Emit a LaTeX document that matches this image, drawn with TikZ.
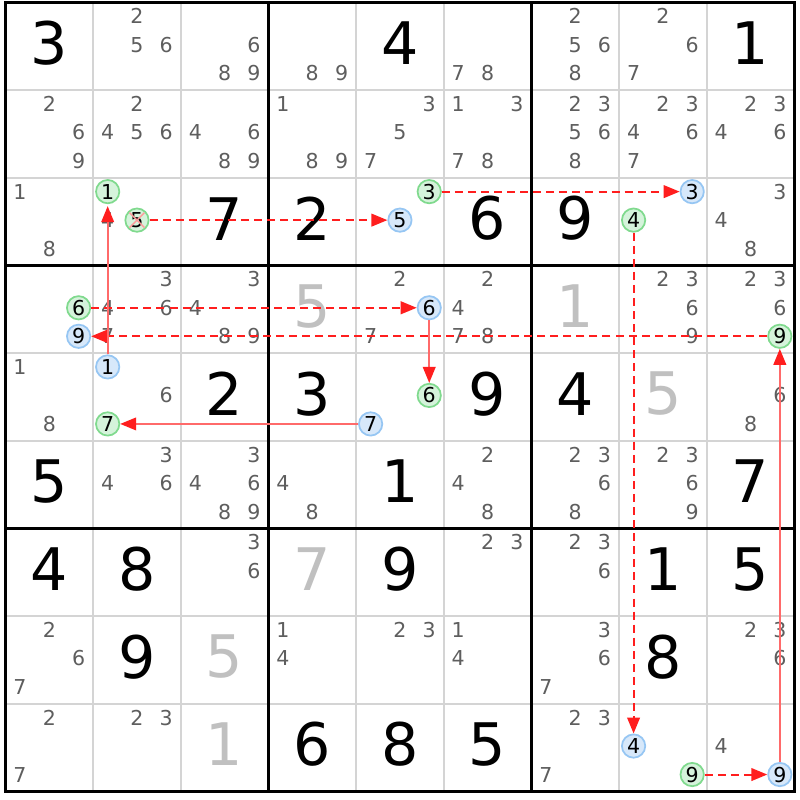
\documentclass[tikz,border=0pt]{standalone}
\usepackage{fontspec}
\setmainfont{DejaVu Sans}
\usepackage{xcolor}
\usepackage{tikz}
\usetikzlibrary{arrows.meta}

\definecolor{candgray}{HTML}{5E5E5E}
\definecolor{solvedgray}{HTML}{C0C0C0}
\definecolor{thingrid}{HTML}{D4D4D4}
\definecolor{onfill}{HTML}{D5F3DB}
\definecolor{ondraw}{HTML}{80DA8E}
\definecolor{offfill}{HTML}{D7E8FA}
\definecolor{offdraw}{HTML}{96C6F3}
\definecolor{linkred}{HTML}{FF1E1E}
\definecolor{strongred}{HTML}{FF6A6A}
\definecolor{crossred}{HTML}{FF9A9A}

% candidates of one cell, small and grey
\newcommand{\cands}[3]{%
  \foreach \d in {#3}{%
    \pgfmathsetmacro{\cx}{5.5+87.65*(#2-0.5)+29.3*(mod(\d-1,3)-1)}%
    \pgfmathsetmacro{\cy}{1+87.65*(#1-0.5)+28.5*(floor((\d-1)/3)-1)}%
    \node[cand] (r#1c#2d\d) at (\cx,\cy) {\d};}}
% one marked candidate (style, row, col, digit)
\newcommand{\markcand}[4]{%
  \pgfmathsetmacro{\cx}{5.5+87.65*(#3-0.5)+29.3*(mod(#4-1,3)-1)}%
  \pgfmathsetmacro{\cy}{1+87.65*(#2-0.5)+28.5*(floor((#4-1)/3)-1)}%
  \node[#1] (r#2c#3d#4) at (\cx,\cy) {#4};}
% big digit (style, row, col, digit)
\newcommand{\bigdigit}[4]{%
  \pgfmathsetmacro{\cx}{5.5+87.65*(#3-0.5)}%
  \pgfmathsetmacro{\cy}{-0.5+87.65*(#2-0.5)}%
  \node[#1] (v#2#3) at (\cx,\cy) {#4};}

\begin{document}
\begin{tikzpicture}[x=0.75pt, y=-0.75pt]
        \tikzset{cand/.style = {text=candgray, inner sep=0pt, font=\fontsize{15.4}{18}\selectfont}}
        \tikzset{given/.style = {text=black, inner sep=0pt, font=\fontsize{44}{50}\selectfont}}
        \tikzset{solved/.style = {given, text=solvedgray}}
        \tikzset{oncand/.style = {circle, draw=ondraw, fill=onfill, line width=1.3pt, minimum size=17.5pt, inner sep=0pt, text=black, font=\fontsize{15.4}{18}\selectfont}}
        \tikzset{offcand/.style = {oncand, draw=offdraw, fill=offfill}}
        \tikzset{weak/.style = {draw=linkred, line width=1.5pt, dash pattern=on 6pt off 3.8pt, -{Triangle[length=12pt, width=9.5pt, color=linkred]}}}
        \tikzset{strong/.style = {draw=strongred, line width=1.3pt, -{Triangle[length=12pt, width=9.5pt, color=linkred]}}}

        \fill[white] (0,0) rectangle (800,800);
        \useasboundingbox (0,0) rectangle (800,800);

        % grid
        \foreach \i in {0,...,9}{
          \draw[thingrid, line width=1.5pt] ({5.5+87.65*\i},2.5) -- ({5.5+87.65*\i},791.35);
          \draw[thingrid, line width=1.5pt] (5.5,{2.5+87.65*\i}) -- (794.35,{2.5+87.65*\i});
        }
        \foreach \i in {0,3,6,9}{
          \draw[black, line width=2.25pt] ({5.5+87.65*\i},2.5) -- ({5.5+87.65*\i},791.35);
          \draw[black, line width=2.25pt] (5.5,{2.5+87.65*\i}) -- (794.35,{2.5+87.65*\i});
        }
        \draw[black, line width=2.25pt, line cap=rect] (5.5,2.5) rectangle (794.35,791.35);

        % row 1
        \bigdigit{given}{1}{1}{3}
        \cands{1}{2}{2,5,6}
        \cands{1}{3}{6,8,9}
        \cands{1}{4}{8,9}
        \bigdigit{given}{1}{5}{4}
        \cands{1}{6}{7,8}
        \cands{1}{7}{2,5,6,8}
        \cands{1}{8}{2,6,7}
        \bigdigit{given}{1}{9}{1}

        % row 2
        \cands{2}{1}{2,6,9}
        \cands{2}{2}{2,4,5,6}
        \cands{2}{3}{4,6,8,9}
        \cands{2}{4}{1,8,9}
        \cands{2}{5}{3,5,7}
        \cands{2}{6}{1,3,7,8}
        \cands{2}{7}{2,3,5,6,8}
        \cands{2}{8}{2,3,4,6,7}
        \cands{2}{9}{2,3,4,6}

        % row 3
        \cands{3}{1}{1,8}
        \cands{3}{2}{4}
        \markcand{oncand}{3}{2}{1}
        \markcand{oncand}{3}{2}{5}
        \bigdigit{given}{3}{3}{7}
        \bigdigit{given}{3}{4}{2}
        \markcand{oncand}{3}{5}{3}
        \markcand{offcand}{3}{5}{5}
        \bigdigit{given}{3}{6}{6}
        \bigdigit{given}{3}{7}{9}
        \markcand{offcand}{3}{8}{3}
        \markcand{oncand}{3}{8}{4}
        \cands{3}{9}{3,4,8}

        % row 4
        \markcand{oncand}{4}{1}{6}
        \markcand{offcand}{4}{1}{9}
        \cands{4}{2}{3,4,6,7}
        \cands{4}{3}{3,4,8,9}
        \bigdigit{solved}{4}{4}{5}
        \cands{4}{5}{2,7}
        \markcand{offcand}{4}{5}{6}
        \cands{4}{6}{2,4,7,8}
        \bigdigit{solved}{4}{7}{1}
        \cands{4}{8}{2,3,6,9}
        \cands{4}{9}{2,3,6}
        \markcand{oncand}{4}{9}{9}

        % row 5
        \cands{5}{1}{1,8}
        \markcand{offcand}{5}{2}{1}
        \cands{5}{2}{6}
        \markcand{oncand}{5}{2}{7}
        \bigdigit{given}{5}{3}{2}
        \bigdigit{given}{5}{4}{3}
        \markcand{oncand}{5}{5}{6}
        \markcand{offcand}{5}{5}{7}
        \bigdigit{given}{5}{6}{9}
        \bigdigit{given}{5}{7}{4}
        \bigdigit{solved}{5}{8}{5}
        \cands{5}{9}{6,8}

        % row 6
        \bigdigit{given}{6}{1}{5}
        \cands{6}{2}{3,4,6}
        \cands{6}{3}{3,4,6,8,9}
        \cands{6}{4}{4,8}
        \bigdigit{given}{6}{5}{1}
        \cands{6}{6}{2,4,8}
        \cands{6}{7}{2,3,6,8}
        \cands{6}{8}{2,3,6,9}
        \bigdigit{given}{6}{9}{7}

        % row 7
        \bigdigit{given}{7}{1}{4}
        \bigdigit{given}{7}{2}{8}
        \cands{7}{3}{3,6}
        \bigdigit{solved}{7}{4}{7}
        \bigdigit{given}{7}{5}{9}
        \cands{7}{6}{2,3}
        \cands{7}{7}{2,3,6}
        \bigdigit{given}{7}{8}{1}
        \bigdigit{given}{7}{9}{5}

        % row 8
        \cands{8}{1}{2,6,7}
        \bigdigit{given}{8}{2}{9}
        \bigdigit{solved}{8}{3}{5}
        \cands{8}{4}{1,4}
        \cands{8}{5}{2,3}
        \cands{8}{6}{1,4}
        \cands{8}{7}{3,6,7}
        \bigdigit{given}{8}{8}{8}
        \cands{8}{9}{2,3,6}

        % row 9
        \cands{9}{1}{2,7}
        \cands{9}{2}{2,3}
        \bigdigit{solved}{9}{3}{1}
        \bigdigit{given}{9}{4}{6}
        \bigdigit{given}{9}{5}{8}
        \bigdigit{given}{9}{6}{5}
        \cands{9}{7}{2,3,7}
        \markcand{offcand}{9}{8}{4}
        \markcand{oncand}{9}{8}{9}
        \cands{9}{9}{4}
        \markcand{offcand}{9}{9}{9}

        % eliminated candidate
        \draw[crossred, line width=1.1pt, shorten <=1.5pt, shorten >=1.5pt] (r3c2d5.north west) -- (r3c2d5.south east);
        \draw[crossred, line width=1.1pt, shorten <=1.5pt, shorten >=1.5pt] (r3c2d5.north east) -- (r3c2d5.south west);

        % chain
        \draw[weak] (r3c2d5) -- (r3c5d5);
        \draw[weak] (r3c5d3) -- (r3c8d3);
        \draw[weak] (r3c8d4) -- (r9c8d4);
        \draw[weak] (r9c8d9) -- (r9c9d9);
        \draw[strong] (r9c9d9) -- (r4c9d9);
        \draw[weak] (r4c9d9) -- (r4c1d9);
        \draw[weak] (r4c1d6) -- (r4c5d6);
        \draw[strong] (r4c5d6) -- (r5c5d6);
        \draw[strong] (r5c5d7) -- (r5c2d7);
        \draw[strong, shorten >=1.5pt] (r5c2d1) -- (r3c2d1);

        \end{tikzpicture}
\end{document}
